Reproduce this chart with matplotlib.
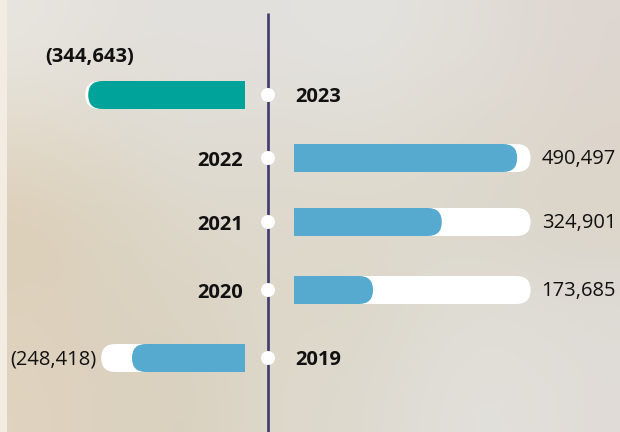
import numpy as np
import matplotlib
matplotlib.use("Agg")
import matplotlib.pyplot as plt
from matplotlib.patches import FancyBboxPatch, Rectangle, Circle

plt.rcParams['font.family'] = ['Open Sans', 'DejaVu Sans']

# data, top row first
years = ['2023', '2022', '2021', '2020', '2019']
values = [-344643, 490497, 324901, 173685, -248418]
labels = ['(344,643)', '490,497', '324,901', '173,685', '(248,418)']
track_ends = [-351000, 520000, 520000, 520000, -316000]
bar_colors = ['#00a39a', '#56aad0', '#56aad0', '#56aad0', '#56aad0']

# layout (pixels)
k = 0.000455          # px per unit
cx = 268              # timeline x
pos_start = 294
neg_start = 245
h = 28
r = h / 2
row_y = [95, 158, 222, 290, 358]
fs = 14.5

fig = plt.figure(figsize=(6.2, 4.32), dpi=100)
ax = fig.add_axes([0, 0, 1, 1])

# blurred photo-like background
bg = np.array([
    [[0.91, 0.90, 0.88], [0.89, 0.88, 0.86], [0.89, 0.88, 0.87], [0.89, 0.88, 0.87], [0.89, 0.89, 0.88], [0.89, 0.88, 0.86], [0.88, 0.86, 0.84], [0.87, 0.84, 0.82]],
    [[0.89, 0.86, 0.80], [0.88, 0.86, 0.82], [0.88, 0.87, 0.84], [0.88, 0.86, 0.83], [0.88, 0.87, 0.84], [0.88, 0.86, 0.82], [0.87, 0.85, 0.81], [0.87, 0.84, 0.80]],
    [[0.86, 0.81, 0.72], [0.86, 0.83, 0.76], [0.87, 0.85, 0.80], [0.87, 0.85, 0.80], [0.87, 0.85, 0.79], [0.87, 0.85, 0.80], [0.86, 0.84, 0.79], [0.86, 0.83, 0.78]],
    [[0.87, 0.82, 0.74], [0.86, 0.82, 0.75], [0.86, 0.83, 0.77], [0.87, 0.85, 0.80], [0.86, 0.84, 0.78], [0.87, 0.86, 0.82], [0.88, 0.87, 0.84], [0.87, 0.86, 0.84]],
    [[0.88, 0.83, 0.75], [0.86, 0.82, 0.75], [0.85, 0.82, 0.75], [0.87, 0.85, 0.80], [0.87, 0.85, 0.80], [0.88, 0.87, 0.85], [0.89, 0.88, 0.86], [0.88, 0.86, 0.84]],
])
ax.imshow(bg, extent=(0, 620, 432, 0), interpolation='bicubic', aspect='auto', zorder=0)
ax.add_patch(Rectangle((0, 0), 7, 432, color='#f3ece2', lw=0, zorder=0.5))
ax.set_xlim(0, 620)
ax.set_ylim(432, 0)
ax.axis('off')

# timeline
ax.plot([cx, cx], [13, 432], color='#3d3a6e', lw=1.9, solid_capstyle='butt', zorder=2)


def half_round(x_flat, x_round, y, color, z):
    # bar with a flat end at x_flat and a round end at x_round
    x0, x1 = min(x_flat, x_round), max(x_flat, x_round)
    ax.add_patch(FancyBboxPatch((x0, y - r), x1 - x0, h,
                                boxstyle='round,pad=0,rounding_size=%g' % r,
                                fc=color, ec='none', zorder=z))
    fx = x_flat if x_flat < x_round else x_flat - r
    ax.add_patch(Rectangle((fx, y - r), r, h, fc=color, ec='none', zorder=z))


for i, (yr, v, lab, te, col) in enumerate(zip(years, values, labels, track_ends, bar_colors)):
    y = row_y[i]
    if v > 0:
        half_round(pos_start, pos_start + te * k, y, 'white', 3)
        half_round(pos_start, pos_start + v * k, y, col, 4)
        ax.text(243, y + 3, yr, ha='right', va='center', fontsize=fs, fontweight='bold', color='#111111')
        ax.text(pos_start + te * k + 11, y + 1, lab, ha='left', va='center', fontsize=fs, color='#111111')
    else:
        half_round(neg_start, neg_start + te * k, y, 'white', 3)
        half_round(neg_start, neg_start + v * k, y, col, 4)
        ax.text(295, y + 2, yr, ha='left', va='center', fontsize=fs, fontweight='bold', color='#111111')
        if i == 0:
            ax.text(90, y - 38, lab, ha='center', va='center', fontsize=fs, fontweight='bold', color='#111111')
        else:
            ax.text(neg_start + te * k - 5, y + 1, lab, ha='right', va='center', fontsize=fs, color='#111111')
    ax.add_patch(Circle((cx, y), 7, fc='white', ec='none', zorder=5))

fig.savefig('out.png', dpi=100)
